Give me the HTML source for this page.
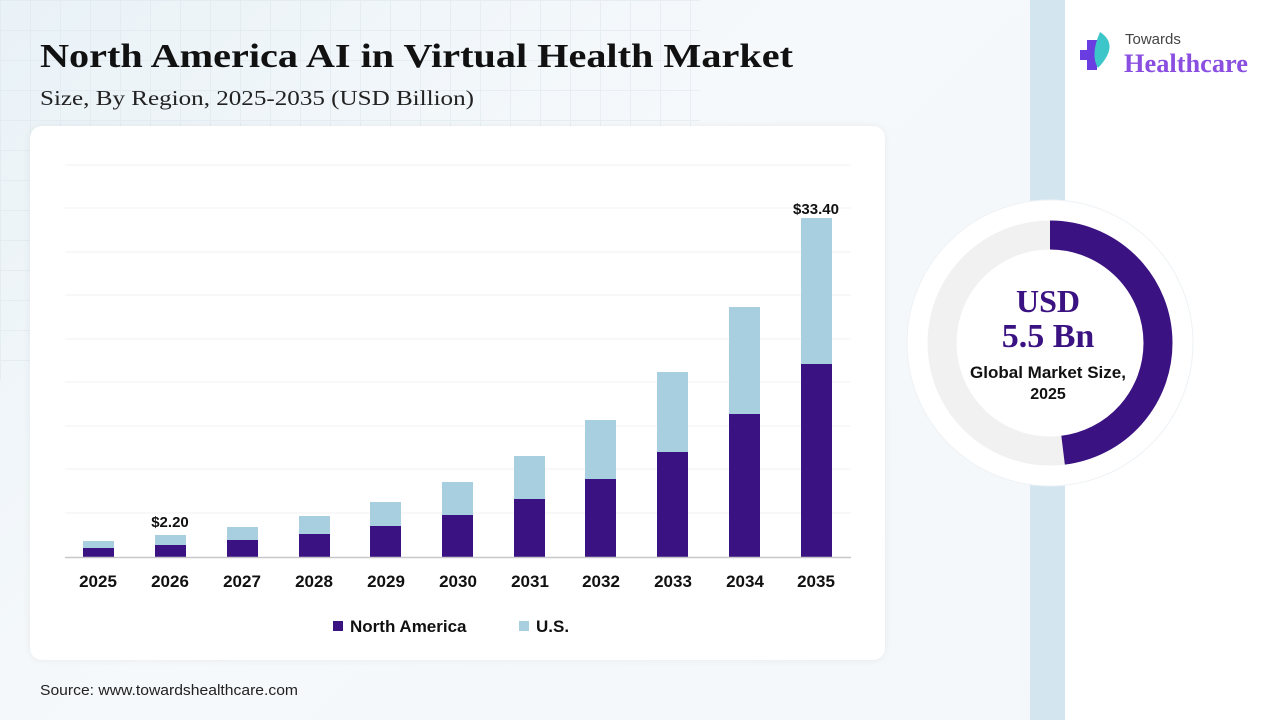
<!DOCTYPE html>
<html><head><meta charset="utf-8"><style>
body{margin:0;width:1280px;height:720px;overflow:hidden;font-family:"Liberation Sans",sans-serif;}
.bg{position:absolute;inset:0;background:linear-gradient(135deg,#e9f2f7 0%,#f6f9fb 40%,#f3f7fa 100%);}
.grid{position:absolute;left:0;top:0;width:700px;height:380px;background-image:linear-gradient(#dce6ee 1px,transparent 1px),linear-gradient(90deg,#dce6ee 1px,transparent 1px);background-size:30px 30px;opacity:.5;}
.stripe{position:absolute;left:1030px;top:0;width:35px;height:720px;background:#d3e6ef;}
.rp{position:absolute;left:1065px;top:0;width:215px;height:720px;background:#fff;}
.card{position:absolute;left:30px;top:126px;width:855px;height:534px;background:#fff;border-radius:12px;box-shadow:0 0 8px rgba(0,0,0,.06);}
</style></head><body>
<div class="bg"></div><div class="grid"></div><div class="stripe"></div><div class="rp"></div>
<div class="card"></div>
<svg style="position:absolute;left:0;top:0" width="1280" height="720">
<text x="40" y="67" font-family="Liberation Serif" font-weight="bold" font-size="34" fill="#111" textLength="753" lengthAdjust="spacingAndGlyphs">North America AI in Virtual Health Market</text>
<text x="40" y="105" font-family="Liberation Serif" font-size="21" fill="#222" textLength="434" lengthAdjust="spacingAndGlyphs">Size, By Region, 2025-2035 (USD Billion)</text>
<text x="40" y="695" font-family="Liberation Sans" font-size="15" fill="#222" textLength="258" lengthAdjust="spacingAndGlyphs">Source: www.towardshealthcare.com</text>
<g stroke="#f0f0f0" stroke-width="1">
<line x1="65" x2="851" y1="165" y2="165"/><line x1="65" x2="851" y1="208" y2="208"/><line x1="65" x2="851" y1="252" y2="252"/><line x1="65" x2="851" y1="295" y2="295"/><line x1="65" x2="851" y1="339" y2="339"/><line x1="65" x2="851" y1="382" y2="382"/><line x1="65" x2="851" y1="426" y2="426"/><line x1="65" x2="851" y1="469" y2="469"/><line x1="65" x2="851" y1="513" y2="513"/>
</g>
<g fill="#a8cfdf">
<rect x="83" y="541" width="31" height="16"/><rect x="155" y="535" width="31" height="22"/><rect x="227" y="527" width="31" height="30"/><rect x="299" y="516" width="31" height="41"/><rect x="370" y="502" width="31" height="55"/><rect x="442" y="482" width="31" height="75"/><rect x="514" y="456" width="31" height="101"/><rect x="585" y="420" width="31" height="137"/><rect x="657" y="372" width="31" height="185"/><rect x="729" y="307" width="31" height="250"/><rect x="801" y="218" width="31" height="339"/>
</g>
<g fill="#3b1282">
<rect x="83" y="548" width="31" height="9"/><rect x="155" y="545" width="31" height="12"/><rect x="227" y="540" width="31" height="17"/><rect x="299" y="534" width="31" height="23"/><rect x="370" y="526" width="31" height="31"/><rect x="442" y="515" width="31" height="42"/><rect x="514" y="499" width="31" height="58"/><rect x="585" y="479" width="31" height="78"/><rect x="657" y="452" width="31" height="105"/><rect x="729" y="414" width="31" height="143"/><rect x="801" y="364" width="31" height="193"/>
</g>
<line x1="65" x2="851" y1="557.5" y2="557.5" stroke="#c8c8c8" stroke-width="1.5"/>
<g font-family="Liberation Sans" font-weight="bold" font-size="17" fill="#111" text-anchor="middle">
<text x="98" y="587">2025</text><text x="170" y="587">2026</text><text x="242" y="587">2027</text><text x="314" y="587">2028</text><text x="386" y="587">2029</text><text x="458" y="587">2030</text><text x="530" y="587">2031</text><text x="601" y="587">2032</text><text x="673" y="587">2033</text><text x="745" y="587">2034</text><text x="816" y="587">2035</text>
<text x="170" y="527" font-size="15">$2.20</text><text x="816" y="214" font-size="15">$33.40</text>
</g>
<rect x="333" y="621" width="10" height="10" fill="#3b1282"/>
<text x="350" y="632" font-family="Liberation Sans" font-weight="bold" font-size="17" fill="#111">North America</text>
<rect x="519" y="621" width="10" height="10" fill="#a8cfdf"/>
<text x="536" y="632" font-family="Liberation Sans" font-weight="bold" font-size="17" fill="#111">U.S.</text>
<circle cx="1050" cy="343" r="143" fill="#fff" stroke="#eef2f5"/>
<circle cx="1050" cy="343" r="108" fill="none" stroke="#f1f1f1" stroke-width="29"/>
<circle cx="1050" cy="343" r="108" fill="none" stroke="#3b1282" stroke-width="29" stroke-dasharray="326 1000" transform="rotate(-90 1050 343)"/>
<g text-anchor="middle">
<text x="1048" y="312" font-family="Liberation Serif" font-weight="bold" font-size="32" fill="#3b1282">USD</text>
<text x="1048" y="347" font-family="Liberation Serif" font-weight="bold" font-size="34" fill="#3b1282">5.5 Bn</text>
<text x="1048" y="378" font-family="Liberation Sans" font-weight="bold" font-size="17" fill="#111">Global Market Size,</text>
<text x="1048" y="399" font-family="Liberation Sans" font-weight="bold" font-size="16" fill="#111">2025</text>
</g>
<rect x="1087" y="40" width="10" height="30" fill="#6a3de0"/><rect x="1080" y="50" width="24" height="10" fill="#6a3de0"/>
<path d="M1100 32 Q1120 45 1098 68 Q1090 55 1100 32Z" fill="#3cc6c9"/>
<text x="1125" y="44" font-family="Liberation Sans" font-size="15" fill="#444">Towards</text>
<text x="1124" y="72" font-family="Liberation Serif" font-weight="bold" font-size="26" fill="#8a4fe0" textLength="124" lengthAdjust="spacingAndGlyphs">Healthcare</text>
</svg>
</body></html>
